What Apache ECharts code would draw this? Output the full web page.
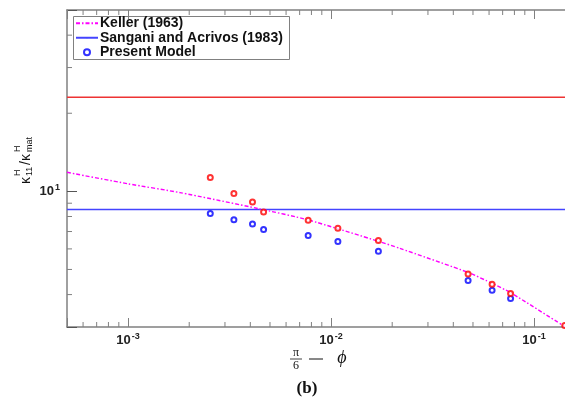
<!DOCTYPE html>
<html>
<head>
<meta charset="utf-8">
<script src="https://cdn.jsdelivr.net/npm/echarts@6/dist/echarts.min.js"></script>
<style>
  html, body { margin: 0; padding: 0; background: #fff; }
  #chart { width: 565px; height: 399px; }
</style>
</head>
<body>
<div id="chart"></div>
<script>
// axis ranges (log scales)
const X_MIN = 0.0005, X_MAX = 0.142;
const Y_MIN = 3, Y_MAX = 50;

// Keller (1963) curve
const kellerX = [0.0005, 0.001, 0.0018, 0.00438, 0.00771, 0.0171, 0.0218, 0.0473, 0.0621, 0.0766, 0.1416];
const kellerY = [11.84, 10.69, 9.89, 8.58, 7.76, 6.42, 6.03, 4.87, 4.42, 4.07, 3.01];

// horizontal reference levels
const sanganiY = 8.52;
const redLineY = 23.07;

// present model points
const modelX = [0.00254, 0.00332, 0.0041, 0.00465, 0.00771, 0.0108, 0.0171, 0.0473, 0.0621, 0.0766, 0.1416];
const redY  = [11.30, 9.82, 9.09, 8.32, 7.73, 7.20, 6.47, 4.80, 4.38, 4.04, 3.04];
const blueY = [8.22, 7.78, 7.48, 7.13, 6.76, 6.41, 5.87, 4.53, 4.16, 3.86];

// minor tick values
const xMinorTicks = [6e-4, 7e-4, 8e-4, 9e-4, 2e-3, 3e-3, 4e-3, 5e-3, 6e-3, 7e-3, 8e-3, 9e-3,
                     0.02, 0.03, 0.04, 0.05, 0.06, 0.07, 0.08, 0.09];
const yMinorTicks = [4, 5, 6, 7, 8, 9, 20, 30, 40];

const AXIS_COLOR = '#808080';
const LABEL_FONT = 'Liberation Sans';

const chart = echarts.init(document.getElementById('chart'));

const isPow10 = v => Math.abs(Math.log10(v) - Math.round(Math.log10(v))) < 1e-6;
const powLabel = v => isPow10(v) ? '{b|10}{s|' + Math.round(Math.log10(v)) + '}' : '';
const labelRich = {
    b: { fontFamily: LABEL_FONT, fontWeight: 'bold', fontSize: 13, color: '#222' },
    s: { fontFamily: LABEL_FONT, fontWeight: 'bold', fontSize: 9, color: '#222', padding: [0, 0, 8, 1] }
};
const legendText = { fontFamily: LABEL_FONT, fontWeight: 'bold', fontSize: 14, color: '#111', padding: [0, 0, 0, -3], lineHeight: 14.5 };

const minorData = xMinorTicks.map(v => [v, Y_MIN, 0]).concat(yMinorTicks.map(v => [X_MIN, v, 1]));

const option = {
    animation: false,
    backgroundColor: '#fff',
    grid: { left: 67, top: 10, right: 0, bottom: 72, outerBoundsMode: 'none' },
    legend: [{
        // line entries
        data: ['Keller (1963)', 'Sangani and Acrivos (1983)'],
        orient: 'vertical',
        left: 73,
        top: 16,
        padding: [0, 4, 0, 2],
        itemGap: 0,
        itemWidth: 22,
        itemHeight: 1.5,
        textStyle: legendText
    }, {
        data: [{ name: 'Present Model', icon: 'emptyCircle' }],
        orient: 'vertical',
        left: 81,
        top: 45,
        padding: [0, 4, 0, 2],
        itemWidth: 22,
        itemHeight: 6,
        textStyle: legendText
    }],
    xAxis: [{
        type: 'log',
        min: X_MIN,
        max: X_MAX,
        axisLine: { lineStyle: { color: AXIS_COLOR, width: 1.5 } },
        axisTick: { inside: true, length: 9, lineStyle: { color: AXIS_COLOR } },
        splitLine: { show: false },
        axisLabel: { margin: 5, formatter: powLabel, rich: labelRich }
    }, {
        type: 'log',
        position: 'top',
        min: X_MIN,
        max: X_MAX,
        axisLine: { lineStyle: { color: AXIS_COLOR, width: 1.5 } },
        axisTick: { inside: true, length: 9, lineStyle: { color: AXIS_COLOR } },
        splitLine: { show: false },
        axisLabel: { show: false }
    }],
    yAxis: {
        type: 'log',
        min: Y_MIN,
        max: Y_MAX,
        axisLine: { show: true, lineStyle: { color: AXIS_COLOR, width: 1.5 } },
        axisTick: { show: true, inside: true, length: 10, lineStyle: { color: '#555' } },
        splitLine: { show: false },
        axisLabel: { margin: 7, formatter: powLabel, rich: labelRich }
    },
    graphic: [
        // legend frame
        { type: 'rect', z: -1, shape: { x: 73.5, y: 16.5, width: 216, height: 43 }, style: { fill: '#fff', stroke: AXIS_COLOR, lineWidth: 1 } },
        // y axis name: kappa_11^H / kappa_mat^H
        {
            type: 'group', x: 26, y: 184, rotation: Math.PI / 2,
            children: [
                { type: 'text', x: 0, y: 0, style: { text: 'κ', font: '14px Liberation Sans', fill: '#111', verticalAlign: 'middle' } },
                { type: 'text', x: 8, y: -8, style: { text: 'H', font: '9px Liberation Sans', fill: '#111', verticalAlign: 'middle' } },
                { type: 'text', x: 8, y: 4, style: { text: '11', font: '9px Liberation Sans', fill: '#111', verticalAlign: 'middle' } },
                { type: 'text', x: 19, y: 0, style: { text: '/κ', font: '14px Liberation Sans', fill: '#111', verticalAlign: 'middle' } },
                { type: 'text', x: 32, y: -8, style: { text: 'H', font: '9px Liberation Sans', fill: '#111', verticalAlign: 'middle' } },
                { type: 'text', x: 32, y: 4, style: { text: 'mat', font: '9px Liberation Sans', fill: '#111', verticalAlign: 'middle' } }
            ]
        },
        // x axis name: pi/6 - phi
        { type: 'text', x: 296, y: 353, style: { text: 'π', font: '12px Liberation Serif', fill: '#111', align: 'center', verticalAlign: 'middle' } },
        { type: 'line', shape: { x1: 290, y1: 359, x2: 302, y2: 359 }, style: { stroke: '#111', lineWidth: 0.8 } },
        { type: 'text', x: 296, y: 366, style: { text: '6', font: '12px Liberation Serif', fill: '#111', align: 'center', verticalAlign: 'middle' } },
        { type: 'line', shape: { x1: 309, y1: 359, x2: 323, y2: 359 }, style: { stroke: '#111', lineWidth: 1 } },
        { type: 'text', x: 342, y: 358, style: { text: 'ϕ', font: 'italic 18px Liberation Serif', fill: '#111', align: 'center', verticalAlign: 'middle' } },
        // caption
        { type: 'text', x: 307, y: 389, style: { text: '(b)', font: 'bold 17px Liberation Serif', fill: '#111', align: 'center', verticalAlign: 'middle' } }
    ],
    series: [
        {
            name: 'Keller (1963)',
            type: 'line',
            data: kellerX.map((x, i) => [x, kellerY[i]]),
            symbol: 'none',
            smooth: 0.2,
            color: '#ff00ff',
            lineStyle: { color: '#ff00ff', width: 1.4, type: [4, 2, 1.5, 2] },
            z: 3
        },
        {
            name: 'Sangani and Acrivos (1983)',
            type: 'line',
            data: [[X_MIN, sanganiY], [X_MAX, sanganiY]],
            symbol: 'none',
            color: '#4444ff',
            lineStyle: { color: '#4444ff', width: 1.5 },
            z: 2
        },
        {
            name: 'Red level',
            type: 'line',
            data: [[X_MIN, redLineY], [X_MAX, redLineY]],
            symbol: 'none',
            color: '#ee3333',
            lineStyle: { color: '#ee3333', width: 1.5 },
            z: 2
        },
        {
            name: 'Present Model',
            type: 'scatter',
            data: blueY.map((y, i) => [modelX[i], y]),
            symbol: 'emptyCircle',
            symbolSize: 5,
            itemStyle: { color: '#0000ff', borderWidth: 1.5 },
            z: 4
        },
        {
            name: 'Present Model (red)',
            type: 'scatter',
            data: redY.map((y, i) => [modelX[i], y]),
            symbol: 'emptyCircle',
            symbolSize: 5,
            itemStyle: { color: '#ff0000', borderWidth: 1.5 },
            clip: false,
            z: 4
        },
        {
            name: 'minor ticks',
            type: 'custom',
            data: minorData,
            encode: { x: 0, y: 1 },
            silent: true,
            clip: false,
            renderItem: (params, api) => {
                const kind = api.value(2);
                const p = api.coord([api.value(0), api.value(1)]);
                const st = { stroke: AXIS_COLOR, lineWidth: 1 };
                if (kind === 0) {
                    const t = api.coord([api.value(0), Y_MAX]);
                    return {
                        type: 'group',
                        children: [
                            { type: 'line', shape: { x1: p[0], y1: p[1], x2: p[0], y2: p[1] - 5 }, style: st },
                            { type: 'line', shape: { x1: t[0], y1: t[1], x2: t[0], y2: t[1] + 5 }, style: st }
                        ]
                    };
                }
                return { type: 'line', shape: { x1: p[0], y1: p[1], x2: p[0] + 5, y2: p[1] }, style: st };
            }
        }
    ]
};

chart.setOption(option);
</script>
</body>
</html>
